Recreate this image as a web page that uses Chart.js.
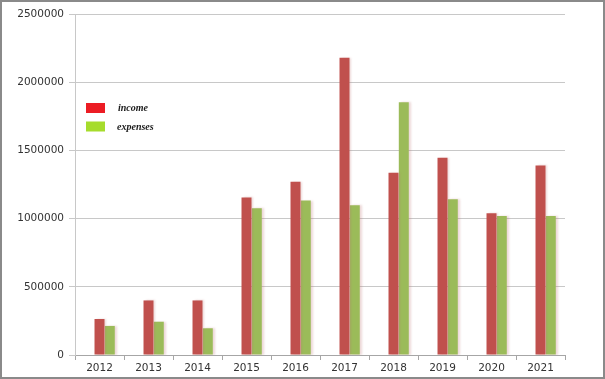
<!DOCTYPE html>
<html>
<head>
<meta charset="utf-8">
<script src="https://cdn.jsdelivr.net/npm/chart.js@4/dist/chart.umd.min.js"></script>
<style>
  html, body { margin: 0; padding: 0; background: #fff; }
  #wrap { position: relative; width: 605px; height: 379px; box-sizing: border-box; border: 2px solid #8a8a8a; }
  #wrap canvas { position: absolute; left: -2px; top: -2px; }
</style>
</head>
<body>
<div id="wrap"><canvas id="c" width="605" height="379"></canvas></div>
<script>
const YEARS = ['2012', '2013', '2014', '2015', '2016', '2017', '2018', '2019', '2020', '2021'];
const INCOME = [264000, 400000, 400000, 1155000, 1270000, 2180000, 1336000, 1446000, 1040000, 1390000];
const EXPENSES = [213000, 244000, 196000, 1076000, 1132000, 1098000, 1853000, 1142000, 1019000, 1019000];
const Y_TICKS = [0, 500000, 1000000, 1500000, 2000000, 2500000];

const BAR_COLORS = ['#c0504d', '#9bbb59'];
const LEGEND_COLORS = ['#ec1c24', '#a6dc2c'];

// legend sits inside the plot, drawn by hand
const insideLegend = {
  id: 'insideLegend',
  afterDraw(chart) {
    const ctx = chart.ctx;
    const items = chart.data.datasets.filter(d => d.label);
    ctx.save();
    items.forEach((d, i) => {
      const y = 103 + i * 18.5;
      ctx.fillStyle = LEGEND_COLORS[i];
      ctx.fillRect(86, y, 19, 10);
      ctx.fillStyle = '#1a1a1a';
      ctx.font = 'italic bold 10px "Liberation Serif", serif';
      ctx.textBaseline = 'middle';
      ctx.fillText(d.label, i === 0 ? 118 : 117, y + 5.5);
    });
    ctx.restore();
  },
};

// soft shadow to the right of bars
const barShadow = {
  id: 'barShadow',
  beforeDatasetsDraw(chart) {
    const ctx = chart.ctx;
    ctx.save();
    ctx.shadowColor = 'rgba(190,120,120,0.28)';
    ctx.shadowOffsetX = 2;
    ctx.shadowOffsetY = 0;
    ctx.shadowBlur = 2;
  },
  afterDatasetsDraw(chart) {
    chart.ctx.restore();
  },
};

const tickFont = { family: '"DejaVu Sans", sans-serif', size: 10.5 };

new Chart(document.getElementById('c'), {
  type: 'bar',
  data: {
    labels: YEARS,
    datasets: [
      { label: '', data: [], backgroundColor: 'transparent' },
      { label: 'income', data: INCOME, backgroundColor: BAR_COLORS[0] },
      { label: 'expenses', data: EXPENSES, backgroundColor: BAR_COLORS[1] },
    ],
  },
  options: {
    responsive: false,
    animation: false,
    categoryPercentage: 0.63,
    barPercentage: 0.97,
    layout: { padding: { top: 14, right: 40, bottom: 0, left: 0 } },
    plugins: { legend: { display: false }, tooltip: { enabled: false } },
    scales: {
      x: {
        grid: { offset: true, drawOnChartArea: false, color: '#a6a6a6', tickLength: 5 },
        border: { color: '#a6a6a6' },
        ticks: { color: '#333', font: tickFont, padding: 2 },
        afterFit(axis) { axis.height = 24; },
      },
      y: {
        min: 0,
        max: 2500000,
        afterBuildTicks(axis) { axis.ticks = Y_TICKS.map(v => ({ value: v })); },
        grid: { color: '#c8c8c8', tickLength: 6 },
        border: { color: '#c8c8c8' },
        ticks: { color: '#333', font: tickFont, padding: 5, callback: v => String(v) },
        afterFit(axis) { axis.width = 75; },
      },
    },
  },
  plugins: [barShadow, insideLegend],
});
</script>
</body>
</html>
